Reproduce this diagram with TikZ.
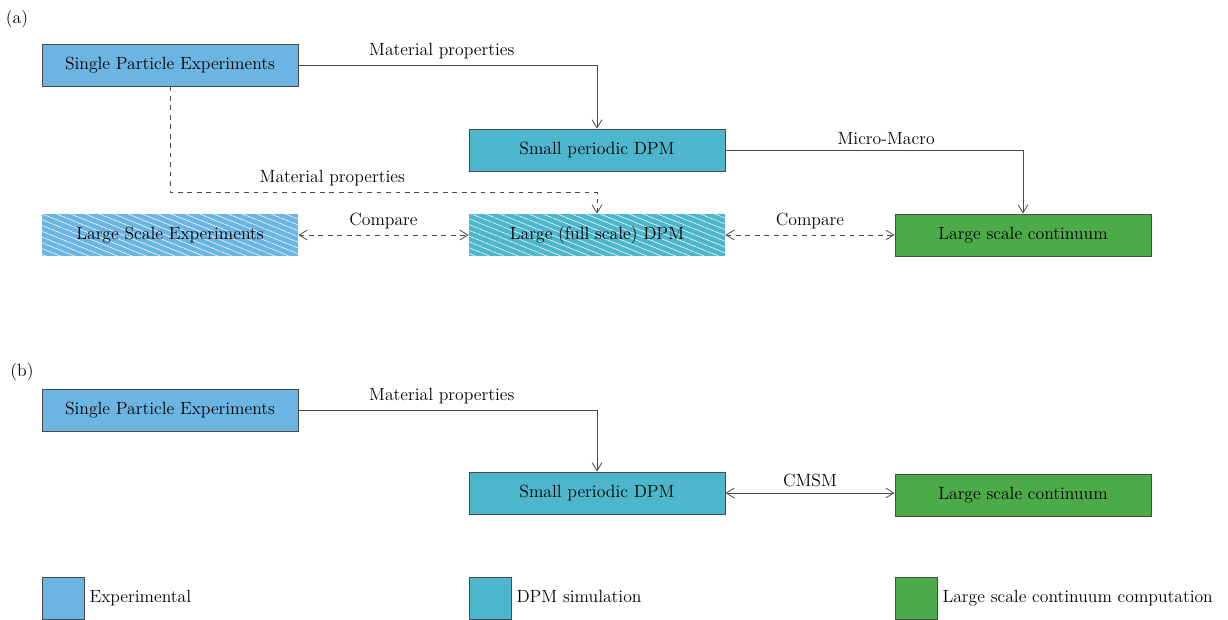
\documentclass[tikz,border=0pt]{standalone}
\usepackage{tikz}
\usetikzlibrary{arrows.meta,positioning,patterns.meta,calc}
\definecolor{ExpBlue}{HTML}{6CB4E1}
\definecolor{DpmTeal}{HTML}{4DB6CC}
\definecolor{ContGreen}{HTML}{4CAA48}
\definecolor{Edge}{HTML}{4A4A4A}
\newcommand{\labelfont}{\fontsize{11.2}{13}\selectfont}
\tikzset{
  every node/.style={font=\labelfont},
  block/.style={draw=Edge,line width=0.5pt,minimum width=5.71cm,minimum height=0.94cm,inner sep=0pt},
  hatched/.style={minimum width=5.71cm,minimum height=0.94cm,inner sep=0pt,
    postaction={pattern={Lines[angle=-22,distance=3.4pt,line width=0.35pt]},pattern color=white}},
  swatch/.style={draw=Edge,line width=0.5pt,minimum width=0.94cm,minimum height=0.94cm,inner sep=0pt},
  keytext/.style={text height=1.6ex,text depth=0.4ex,inner sep=1pt},
  arrow/.style={-{Straight Barb[length=1.8mm,width=2.2mm]},line width=0.5pt,draw=Edge},
  twoway/.style={{Straight Barb[length=1.8mm,width=2.2mm]}-{Straight Barb[length=1.8mm,width=2.2mm]},line width=0.5pt,draw=Edge},
  comparearrow/.style={twoway,dashed}
}
\begin{document}
\begin{tikzpicture}[x=0.0223cm,y=-0.0223cm]
  \useasboundingbox (0,0) rectangle (1228,619);

  % (a)
  \node (tagA) at (17,19) {(a)};
  \node[block,fill=ExpBlue] (speA) at (170,65) {Single Particle Experiments};
  \node[block,fill=DpmTeal] (sdpmA) at (597,150) {Small periodic DPM};
  \node[hatched,fill=ExpBlue] (lse) at (170,235) {Large Scale Experiments};
  \node[hatched,fill=DpmTeal] (ldpm) at (597,235) {Large (full scale) DPM};
  \node[block,fill=ContGreen] (contA) at (1023,235) {Large scale continuum};
  \coordinate (bend) at (597,192);

  \draw[arrow] (speA.east) -| node[pos=0.24,above] {Material properties} (sdpmA.north);
  \draw[arrow,dashed] (speA.south) |- node[pos=0.69,above] {Material properties} (bend) -- (ldpm.north);
  \draw[arrow] (sdpmA.east) -| node[pos=0.27,above] {Micro-Macro} (contA.north);
  \draw[comparearrow] (lse.east) -- node[above] {Compare} (ldpm.west);
  \draw[comparearrow] (ldpm.east) -- node[above] {Compare} (contA.west);

  % (b)
  \node (tagB) at (22,372) {(b)};
  \node[block,fill=ExpBlue] (speB) at (170,410) {Single Particle Experiments};
  \node[block,fill=DpmTeal] (sdpmB) at (597,493) {Small periodic DPM};
  \node[block,fill=ContGreen] (contB) at (1023,495) {Large scale continuum};

  \draw[arrow] (speB.east) -| node[pos=0.24,above] {Material properties} (sdpmB.north);
  \draw[twoway] (sdpmB.east) -- node[above] {CMSM} (sdpmB.east -| contB.west);

  % legend
  \node[swatch,fill=ExpBlue] (keyExp) at (63,598) {};
  \node[keytext,right=2pt of keyExp] (txtExp) {Experimental};
  \node[swatch,fill=DpmTeal] (keyDpm) at (490,598) {};
  \node[keytext,right=2pt of keyDpm] (txtDpm) {DPM simulation};
  \node[swatch,fill=ContGreen] (keyCont) at (916,598) {};
  \node[keytext,right=2pt of keyCont] (txtCont) {Large scale continuum computation};
\end{tikzpicture}
\end{document}
